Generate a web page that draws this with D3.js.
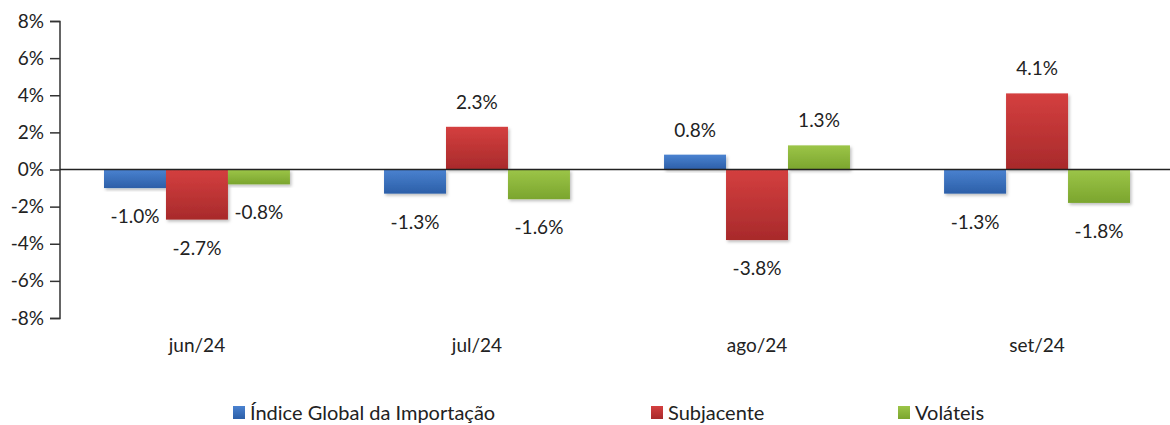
<!DOCTYPE html>
<html><head><meta charset="utf-8">
<script src="https://cdn.jsdelivr.net/npm/d3@7"></script>
<style>body{margin:0;background:#fff}svg{display:block}text{font-family:Lato,"Open Sans",sans-serif;fill:#222}</style>
</head><body><svg id="c" width="1170" height="425"></svg>
<script>
const categories = ["jun/24","jul/24","ago/24","set/24"];
const seriesNames = ["Índice Global da Importação","Subjacente","Voláteis"];
const globalIdx = [-1.0,-1.3,0.8,-1.3];
const subjacente = [-2.7,2.3,-3.8,4.1];
const volateis = [-0.8,-1.6,1.3,-1.8];
const yTicks = [8,6,4,2,0,-2,-4,-6,-8];
const colors = [["#4a82d0","#2c5fa8"],["#d43f3f","#a82a2b"],["#9cc548","#7ba52e"]];

const svg = d3.select("#c");
const x0 = d3.scaleBand().domain(categories).range([104,1130]).paddingInner(0.336).paddingOuter(0);
const x1 = d3.scaleBand().domain(d3.range(3)).range([0,x0.bandwidth()]);
const y = d3.scaleLinear().domain([-8,8]).range([318,21]);
const FS = 19;

const defs = svg.append("defs");
colors.forEach((c,i)=>{
  const g = defs.append("linearGradient").attr("id","g"+i).attr("x1",0).attr("x2",0).attr("y1",0).attr("y2",1);
  g.append("stop").attr("offset","0%").attr("stop-color",c[0]);
  g.append("stop").attr("offset","100%").attr("stop-color",c[1]);
});
const f = defs.append("filter").attr("id","sh").attr("x","-10%").attr("y","-10%").attr("width","130%").attr("height","130%");
f.append("feDropShadow").attr("dx",1.5).attr("dy",2).attr("stdDeviation",1.5).attr("flood-color","#000").attr("flood-opacity",0.25);

// y axis
const ya = svg.append("g").attr("transform","translate(60,0)")
  .call(d3.axisLeft(y).tickValues(yTicks).tickSize(10).tickFormat(d=>d+"%"));
ya.select(".domain").attr("stroke","#333").attr("stroke-width",1.5).attr("d","M-10,21.5H0V318.5H-10");
ya.selectAll(".tick line").attr("stroke","#333").attr("stroke-width",1.5);
ya.selectAll(".tick text").attr("font-size",FS).attr("x",-16).style("font-family","Lato,sans-serif").attr("fill","#222");

const data = [globalIdx, subjacente, volateis];
const groups = svg.selectAll(".grp").data(categories).join("g")
  .attr("transform",d=>`translate(${x0(d)},0)`);
groups.each(function(cat,ci){
  const g = d3.select(this);
  data.forEach((arr,si)=>{
    const v = arr[ci];
    g.append("rect").attr("x",x1(si)).attr("width",x1.bandwidth())
      .attr("y",y(Math.max(0,v))).attr("height",Math.abs(y(v)-y(0)))
      .attr("fill",`url(#g${si})`).attr("filter","url(#sh)");
  });
});
// zero line
svg.append("line").attr("x1",60).attr("x2",1170).attr("y1",y(0)).attr("y2",y(0)).attr("stroke","#222").attr("stroke-width",1.5);
// labels
groups.each(function(cat,ci){
  const g = d3.select(this);
  data.forEach((arr,si)=>{
    const v = arr[ci];
    g.append("text").attr("x",x1(si)+x1.bandwidth()/2)
      .attr("y", v>=0 ? y(v)-18 : y(v)+35)
      .attr("text-anchor","middle").attr("font-size",FS)
      .text(v.toFixed(1)+"%");
  });
});
// category labels
svg.selectAll(".cat").data(categories).join("text")
  .attr("x",d=>x0(d)+x0.bandwidth()/2).attr("y",352).attr("text-anchor","middle").attr("font-size",FS).text(d=>d);
// legend
const legX = [233,651,898];
seriesNames.forEach((n,i)=>{
  svg.append("rect").attr("x",legX[i]).attr("y",406).attr("width",12).attr("height",13).attr("fill",`url(#g${i})`);
  svg.append("text").attr("x",legX[i]+17).attr("y",420).attr("font-size",20).text(n);
});
</script></body></html>
